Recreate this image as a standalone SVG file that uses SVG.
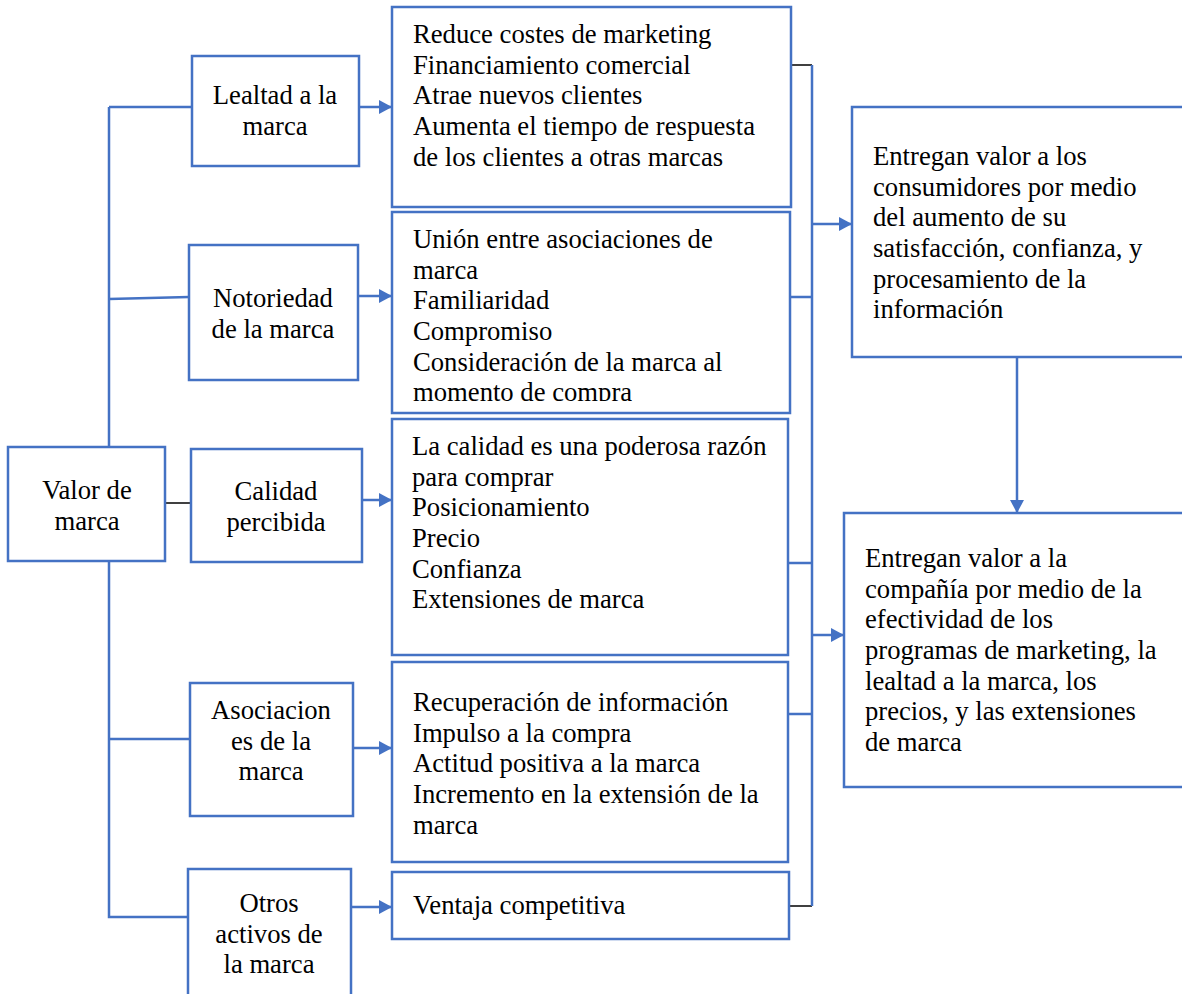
<svg xmlns="http://www.w3.org/2000/svg" width="1182" height="994" viewBox="0 0 1182 994">
<style>
.box{fill:#fff;stroke:#4472C4;stroke-width:2.5}
.t{font-family:"Liberation Serif","Times New Roman",serif;font-size:26.67px;fill:#000}
.c{text-anchor:middle}
.ln{fill:none;stroke:#4472C4;stroke-width:2.5}
.bk{fill:none;stroke:#000;stroke-width:1.5}
.ar{fill:none;stroke:#4472C4;stroke-width:2.5;marker-end:url(#ah)}
</style>
<defs>
<marker id="ah" markerWidth="14" markerHeight="14" refX="13" refY="7" orient="auto" markerUnits="userSpaceOnUse">
<path d="M0,0 L13,7 L0,14 z" fill="#4472C4"/>
</marker>
<clipPath id="clip2"><rect x="392" y="212" width="398" height="189"/></clipPath>
</defs>

<g id="connectors">
<path class="ln" d="M109,107 V447 M109,561 V917 H188 M109,107 H192 M109,299 L189,297 M109,739 H190"/>
<path class="bk" d="M165,503 H191"/>
<path class="ar" d="M359,107 H392"/>
<path class="ar" d="M358,296 H392"/>
<path class="ar" d="M362,500 H392"/>
<path class="ar" d="M353,748 H392"/>
<path class="ar" d="M351,907 H392"/>
<path class="bk" d="M791,65 H812"/>
<path class="bk" d="M789,906 H812"/>
<path class="ln" d="M812,65 V906 M790,297 H812 M788,563 H812 M788,714 H812"/>
<path class="ar" d="M812,224 H852"/>
<path class="ar" d="M812,635 H844"/>
<path class="ar" d="M1017,357 V513"/>
</g>

<g id="valor"><rect class="box" x="8" y="447" width="157" height="114"/>
<text class="t c" x="87" y="499">Valor de</text><text class="t c" x="87" y="530">marca</text></g>

<g id="lealtad"><rect class="box" x="192" y="56" width="167" height="110"/>
<text class="t c" x="275" y="104">Lealtad a la</text><text class="t c" x="275" y="135">marca</text></g>

<g id="notoriedad"><rect class="box" x="189" y="245" width="169" height="135"/>
<text class="t c" x="273" y="307">Notoriedad</text><text class="t c" x="273" y="338">de la marca</text></g>

<g id="calidad"><rect class="box" x="191" y="449" width="171" height="113"/>
<text class="t c" x="276" y="500">Calidad</text><text class="t c" x="276" y="531">percibida</text></g>

<g id="asociaciones"><rect class="box" x="190" y="683" width="163" height="133"/>
<text class="t c" x="271" y="719">Asociacion</text><text class="t c" x="271" y="749.7">es de la</text><text class="t c" x="271" y="780.3">marca</text></g>

<g id="otros"><rect class="box" x="188" y="869" width="163" height="140"/>
<text class="t c" x="269" y="912">Otros</text><text class="t c" x="269" y="942.7">activos de</text><text class="t c" x="269" y="973.3">la marca</text></g>

<g id="box1"><rect class="box" x="392" y="7" width="399" height="200"/>
<text class="t" x="413" y="43">Reduce costes de marketing</text>
<text class="t" x="413" y="73.7">Financiamiento comercial</text>
<text class="t" x="413" y="104.3">Atrae nuevos clientes</text>
<text class="t" x="413" y="135">Aumenta el tiempo de respuesta</text>
<text class="t" x="413" y="165.7">de los clientes a otras marcas</text></g>

<g id="box2"><rect class="box" x="392" y="212" width="398" height="201"/>
<g clip-path="url(#clip2)">
<text class="t" x="413" y="248">Unión entre asociaciones de</text>
<text class="t" x="413" y="278.7">marca</text>
<text class="t" x="413" y="309.3">Familiaridad</text>
<text class="t" x="413" y="340">Compromiso</text>
<text class="t" x="413" y="370.7">Consideración de la marca al</text>
<text class="t" x="413" y="401.3">momento de compra</text></g></g>

<g id="box3"><rect class="box" x="392" y="419" width="396" height="236"/>
<text class="t" x="412" y="455">La calidad es una poderosa razón</text>
<text class="t" x="412" y="485.7">para comprar</text>
<text class="t" x="412" y="516.3">Posicionamiento</text>
<text class="t" x="412" y="547">Precio</text>
<text class="t" x="412" y="577.7">Confianza</text>
<text class="t" x="412" y="608.3">Extensiones de marca</text></g>

<g id="box4"><rect class="box" x="392" y="662" width="396" height="200"/>
<text class="t" x="413" y="711">Recuperación de información</text>
<text class="t" x="413" y="741.7">Impulso a la compra</text>
<text class="t" x="413" y="772.3">Actitud positiva a la marca</text>
<text class="t" x="413" y="803">Incremento en la extensión de la</text>
<text class="t" x="413" y="833.7">marca</text></g>

<g id="box5"><rect class="box" x="392" y="872" width="397" height="67"/>
<text class="t" x="413" y="914">Ventaja competitiva</text></g>

<g id="right1"><rect class="box" x="852" y="107" width="340" height="250"/>
<text class="t" x="873" y="165">Entregan valor a los</text>
<text class="t" x="873" y="195.7">consumidores por medio</text>
<text class="t" x="873" y="226.3">del aumento de su</text>
<text class="t" x="873" y="257">satisfacción, confianza, y</text>
<text class="t" x="873" y="287.7">procesamiento de la</text>
<text class="t" x="873" y="318.3">información</text></g>

<g id="right2"><rect class="box" x="844" y="513" width="348" height="274"/>
<text class="t" x="865" y="567">Entregan valor a la</text>
<text class="t" x="865" y="597.7">compañía por medio de la</text>
<text class="t" x="865" y="628.3">efectividad de los</text>
<text class="t" x="865" y="659">programas de marketing, la</text>
<text class="t" x="865" y="689.7">lealtad a la marca, los</text>
<text class="t" x="865" y="720.3">precios, y las extensiones</text>
<text class="t" x="865" y="751">de marca</text></g>
</svg>
